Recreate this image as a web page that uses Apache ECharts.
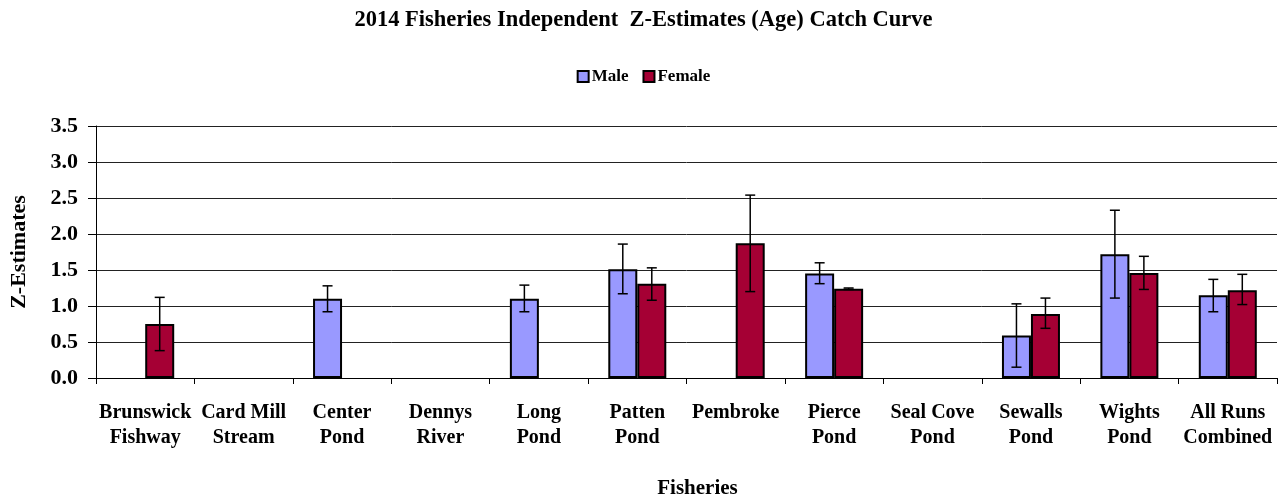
<!DOCTYPE html>
<html>
<head>
<meta charset="utf-8">
<script src="https://cdn.jsdelivr.net/npm/echarts@6/dist/echarts.min.js"></script>
<style>
  html, body { margin: 0; padding: 0; background: #fff; }
  #chart { width: 1287px; height: 504px; }
</style>
</head>
<body>
<div id="chart"></div>
<script>
// categories (two-line labels as in the source)
const fisheries = [
    'Brunswick\nFishway', 'Card Mill\nStream', 'Center\nPond', 'Dennys\nRiver',
    'Long\nPond', 'Patten\nPond', 'Pembroke', 'Pierce\nPond',
    'Seal Cove\nPond', 'Sewalls\nPond', 'Wights\nPond', 'All Runs\nCombined'
];

// Z-estimates (null = no estimate)
const male   = [null, null, 1.10, null, 1.10, 1.51, null, 1.45, null, 0.59, 1.72, 1.15];
const female = [0.75, null, null, null, null, 1.31, 1.87, 1.24, null, 0.89, 1.46, 1.22];

// error bar limits
const maleLow    = [null, null, 0.92, null, 0.92, 1.17, null, 1.31, null, 0.15, 1.11, 0.92];
const maleHigh   = [null, null, 1.28, null, 1.29, 1.86, null, 1.60, null, 1.03, 2.33, 1.37];
const femaleLow  = [0.38, null, null, null, null, 1.08, 1.20, 1.23, null, 0.69, 1.23, 1.02];
const femaleHigh = [1.12, null, null, null, null, 1.53, 2.54, 1.25, null, 1.11, 1.69, 1.44];

const yTicks = [0, 0.5, 1.0, 1.5, 2.0, 2.5, 3.0, 3.5];

const FONT = 'Liberation Serif';
const BAR_W = 29;

function errData(low, high) {
    let out = [];
    low.forEach(function (v, i) {
        if (v != null && high[i] != null) out.push([i, v, high[i]]);
    });
    return out;
}

function errRenderer(shift) {
    return function (params, api) {
        const c = api.value(0);
        const lo = api.coord([c, api.value(1)]);
        const hi = api.coord([c, api.value(2)]);
        const x = lo[0] + shift;
        const cap = 5;
        const style = { stroke: '#000', lineWidth: 1.5 };
        return {
            type: 'group',
            children: [
                { type: 'line', shape: { x1: x, y1: lo[1], x2: x, y2: hi[1] }, style: style },
                { type: 'line', shape: { x1: x - cap, y1: lo[1], x2: x + cap, y2: lo[1] }, style: style },
                { type: 'line', shape: { x1: x - cap, y1: hi[1], x2: x + cap, y2: hi[1] }, style: style }
            ]
        };
    };
}

let chart = echarts.init(document.getElementById('chart'));

chart.setOption({
    animation: false,
    backgroundColor: '#fff',
    title: {
        text: '2014 Fisheries Independent  Z-Estimates (Age) Catch Curve',
        left: 'center',
        top: 4,
        textStyle: { fontFamily: FONT, fontWeight: 'bold', fontSize: 22.5, color: '#000' }
    },
    legend: {
        top: 63,
        left: 'center',
        icon: 'rect',
        itemWidth: 11,
        itemHeight: 11,
        itemGap: 14,
        data: ['Male', 'Female'],
        textStyle: { fontFamily: FONT, fontWeight: 'bold', fontSize: 17, color: '#000', padding: [0, 0, 0, -2] }
    },
    grid: { left: 96, right: 10, top: 126, bottom: 121, containLabel: false },
    xAxis: {
        type: 'category',
        data: fisheries,
        name: 'Fisheries',
        nameLocation: 'middle',
        nameGap: 100,
        nameTextStyle: { fontFamily: FONT, fontWeight: 'bold', fontSize: 21, color: '#000', padding: [0, 0, 0, 22] },
        axisLine: { lineStyle: { color: '#000', width: 1 } },
        axisTick: { show: true, length: 6, lineStyle: { color: '#000' } },
        axisLabel: {
            interval: 0,
            margin: 22,
            fontFamily: FONT,
            fontWeight: 'bold',
            fontSize: 20,
            lineHeight: 25,
            color: '#000'
        }
    },
    yAxis: {
        type: 'value',
        min: 0,
        max: 3.5,
        interval: 0.5,
        name: 'Z-Estimates',
        nameLocation: 'middle',
        nameGap: 66,
        nameTextStyle: { fontFamily: FONT, fontWeight: 'bold', fontSize: 22, color: '#000' },
        axisLine: { show: true, lineStyle: { color: '#000', width: 1 } },
        axisTick: { show: true, length: 8, lineStyle: { color: '#000' } },
        splitLine: { show: true, lineStyle: { color: '#222', width: 1 } },
        axisLabel: {
            margin: 18,
            fontFamily: FONT,
            fontWeight: 'bold',
            fontSize: 22,
            color: '#000',
            formatter: function (v) { return yTicks.indexOf(v) >= 0 ? v.toFixed(1) : ''; }
        }
    },
    series: [
        {
            name: 'Male',
            type: 'bar',
            data: male,
            barWidth: BAR_W,
            barGap: '0%',
            itemStyle: { color: '#9999FF', borderColor: '#000', borderWidth: 2 }
        },
        {
            name: 'Female',
            type: 'bar',
            data: female,
            barWidth: BAR_W,
            barGap: '0%',
            itemStyle: { color: '#A50034', borderColor: '#000', borderWidth: 2 }
        },
        {
            type: 'custom',
            renderItem: errRenderer(-BAR_W / 2),
            data: errData(maleLow, maleHigh),
            z: 5,
            silent: true
        },
        {
            type: 'custom',
            renderItem: errRenderer(BAR_W / 2),
            data: errData(femaleLow, femaleHigh),
            z: 5,
            silent: true
        }
    ]
});
</script>
</body>
</html>
